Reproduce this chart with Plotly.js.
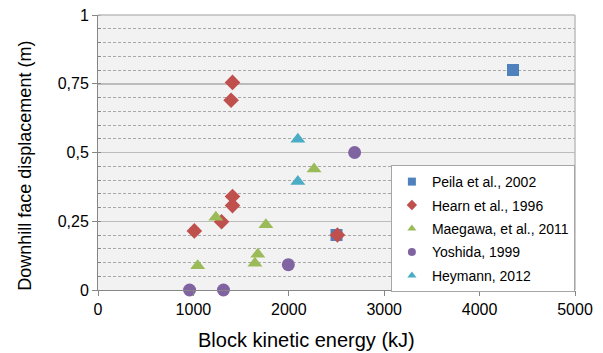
<!DOCTYPE html>
<html><head><meta charset="utf-8">
<script src="https://cdn.plot.ly/plotly-3.0.1.min.js"></script>
<style>html,body{margin:0;padding:0;background:#fff;}</style>
</head><body><div id="chart" style="width:603px;height:353px;"></div>
<script>
// Data (block kinetic energy kJ, downhill face displacement m)
const seriesNames = ["Peila et al., 2002", "Hearn et al., 1996", "Maegawa, et al., 2011", "Yoshida, 1999", "Heymann, 2012"];
const peilaX = [4350, 2500];
const peilaY = [0.80, 0.20];
const hearnX = [1410, 1395, 1410, 1410, 1295, 1010, 2510];
const hearnY = [0.755, 0.69, 0.34, 0.307, 0.248, 0.215, 0.20];
const maegawaX = [2265, 1235, 1760, 1675, 1645, 1045];
const maegawaY = [0.44, 0.265, 0.237, 0.13, 0.097, 0.088];
const yoshidaX = [2690, 1995, 960, 1315];
const yoshidaY = [0.50, 0.092, 0.0, 0.0];
const heymannX = [2095, 2095];
const heymannY = [0.548, 0.395];
const xTicks = [0, 1000, 2000, 3000, 4000, 5000];
const yTicks = [0, 0.25, 0.5, 0.75, 1];
const yTickText = ["0", "0,25", "0,5", "0,75", "1"];
const xTitle = "Block kinetic energy (kJ)";
const yTitle = "Downhill face displacement (m)";

const colors = ["#4f81bd", "#c0504d", "#9bbb59", "#8064a2", "#4bacc6"];
const symbols = ["square", "diamond", "triangle-up", "circle", "triangle-up"];
const sizes = [12, 12, 13, 13, 13];
const legendSizes = [8, 8, 8, 8, 8];
const xs = [peilaX, hearnX, maegawaX, yoshidaX, heymannX];
const ys = [peilaY, hearnY, maegawaY, yoshidaY, heymannY];

const traces = [];
for (let i = 0; i < 5; i++) {
  traces.push({
    type: "scatter", mode: "markers", x: xs[i], y: ys[i], name: seriesNames[i],
    legendgroup: "g" + i, showlegend: false, cliponaxis: false,
    marker: {color: colors[i], symbol: symbols[i], size: sizes[i], line: {width: 0}}
  });
}
for (let i = 0; i < 5; i++) {
  traces.push({
    type: "scatter", mode: "markers", x: [null], y: [null], name: seriesNames[i],
    legendgroup: "g" + i, showlegend: true,
    marker: {color: colors[i], symbol: symbols[i], size: legendSizes[i], line: {width: 0}}
  });
}

const layout = {
  width: 603, height: 353,
  margin: {l: 98, r: 28, t: 15, b: 63},
  paper_bgcolor: "#ffffff", plot_bgcolor: "#f2f2f2",
  font: {family: "Liberation Sans, Arial, sans-serif", size: 14, color: "#000000"},
  showlegend: true,
  legend: {
    x: 0.614, y: 0.4545, xanchor: "left", yanchor: "top",
    bgcolor: "#ffffff", bordercolor: "#a6a6a6", borderwidth: 1,
    font: {size: 14, color: "#000000"}, traceorder: "grouped", tracegroupgap: 2.25,
    itemwidth: 30
  },
  xaxis: {
    range: [0, 5000], tickvals: xTicks, ticktext: xTicks.map(String),
    showgrid: false, zeroline: false, showline: true, linecolor: "#868686", linewidth: 1,
    ticks: "outside", ticklen: 5, tickcolor: "#868686",
    tickfont: {size: 16}
  },
  yaxis: {
    range: [0, 1], tickvals: yTicks, ticktext: yTickText,
    showgrid: true, gridcolor: "#bcbcbc", gridwidth: 1.5,
    zeroline: false, showline: true, linecolor: "#868686", linewidth: 1,
    ticks: "outside", ticklen: 5, tickcolor: "#868686",
    tickfont: {size: 16},
    minor: {dtick: 0.05, tick0: 0, showgrid: true, gridcolor: "#a8a8a8", gridwidth: 1, griddash: "3px,2px",
            ticks: "inside", ticklen: 3, tickcolor: "#868686"}
  },
  annotations: [
    {text: xTitle, xref: "paper", yref: "paper", x: 0.438, y: -0.182, xanchor: "center", yanchor: "middle",
     showarrow: false, font: {size: 20, color: "#000000"}},
    {text: yTitle, xref: "paper", yref: "paper", x: -0.153, y: 0.452, xanchor: "center", yanchor: "middle",
     textangle: -90, showarrow: false, font: {size: 18, color: "#000000"}}
  ],
  shapes: [
    {type: "line", xref: "paper", yref: "paper", x0: 1, x1: 1, y0: 0, y1: 1, line: {color: "#bcbcbc", width: 1.5}},
    {type: "line", xref: "paper", yref: "paper", x0: 0, x1: 1, y0: 1, y1: 1, line: {color: "#bcbcbc", width: 1.5}}
  ]
};

Plotly.newPlot("chart", traces, layout, {displayModeBar: false, staticPlot: true});
</script>
</body></html>
